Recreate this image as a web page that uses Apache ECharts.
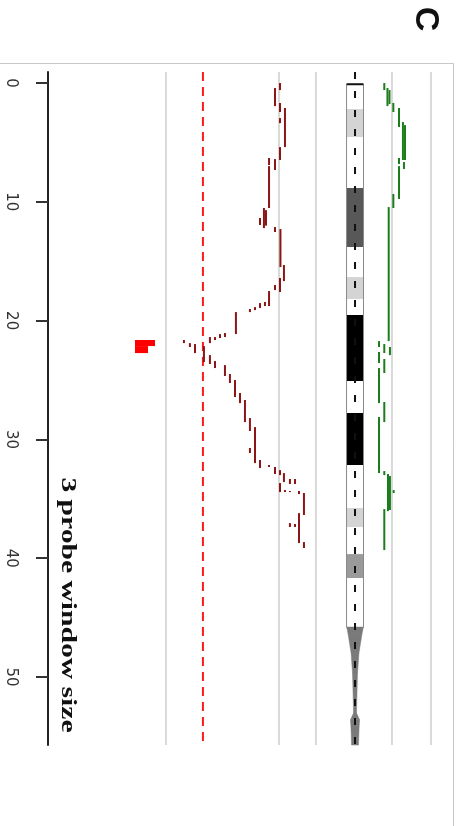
<!DOCTYPE html>
<html>
<head>
<meta charset="utf-8">
<script src="https://cdn.jsdelivr.net/npm/echarts@6/dist/echarts.min.js"></script>
<style>
  html, body { margin: 0; padding: 0; background: #ffffff; }
  #chart { width: 462px; height: 826px; }
</style>
</head>
<body>
<div id="chart"></div>
<script>
// Position along the chromosome (Mb)
const positionTicks = [0, 10, 20, 30, 40, 50];

// Track reference levels (track units)
const guideLevels = [0, 1, 1.327, 2, 2.345];
const thresholdLevel = 0.327;
const ideogramCenter = 1.673;

// Smoothed score over 3-probe windows: [start Mb, end Mb, score]
const scoreWindows = [
  [0.00, 0.59, 1.009], [0.42, 1.94, 0.965], [1.68, 2.44, 1.009], [2.10, 5.39, 1.053],
  [2.95, 3.37, 1.009], [5.39, 6.48, 1.009], [6.31, 6.90, 0.912], [6.99, 10.52, 0.912],
  [6.40, 7.32, 0.965], [10.52, 12.21, 0.867], [10.70, 12.00, 0.885], [11.36, 11.95, 0.832],
  [12.12, 12.54, 0.965], [12.29, 15.49, 1.013], [15.32, 16.67, 1.044], [16.41, 17.59, 1.009],
  [17.00, 17.42, 0.965], [17.51, 18.77, 0.912], [18.43, 18.77, 0.876], [18.52, 18.94, 0.832],
  [18.86, 19.11, 0.788], [19.02, 19.28, 0.743], [19.28, 21.13, 0.619], [21.04, 21.38, 0.522],
  [21.13, 21.46, 0.478], [21.38, 21.63, 0.434], [21.38, 21.89, 0.389], [21.63, 21.89, 0.159],
  [21.89, 22.22, 0.212], [21.97, 22.73, 0.257], [22.14, 23.48, 0.336], [22.90, 23.65, 0.389],
  [23.40, 23.99, 0.434], [23.74, 24.66, 0.522], [24.49, 25.25, 0.566], [25.00, 26.43, 0.611],
  [26.09, 26.94, 0.655], [26.68, 28.54, 0.699], [28.20, 29.29, 0.743], [28.96, 31.99, 0.788],
  [30.72, 31.14, 0.743], [31.73, 32.41, 0.832], [32.15, 32.32, 0.912], [32.32, 32.91, 0.965],
  [32.58, 33.00, 1.009], [33.67, 34.43, 1.009], [32.83, 33.59, 1.044], [33.33, 33.75, 1.097],
  [33.33, 33.75, 1.142], [34.26, 34.43, 1.053], [34.34, 34.43, 1.097], [34.34, 34.60, 1.177],
  [34.51, 36.36, 1.221], [36.20, 38.72, 1.177], [37.04, 37.37, 1.097], [37.12, 37.37, 1.142],
  [38.64, 39.14, 1.221]
];

// Second track over the same windows: [start Mb, end Mb, level]
const ratioWindows = [
  [0.00, 0.59, 1.932], [0.42, 1.94, 1.960], [0.59, 1.77, 1.978], [1.68, 2.44, 2.012],
  [2.10, 3.70, 2.062], [3.28, 6.48, 2.097], [3.54, 6.48, 2.115], [6.65, 7.24, 2.106],
  [6.31, 6.82, 2.062], [6.99, 9.76, 2.062], [9.34, 10.52, 2.012], [10.44, 21.72, 1.971],
  [21.72, 22.22, 1.885], [21.97, 22.73, 1.932], [22.22, 22.90, 1.982], [22.64, 23.57, 1.885],
  [23.23, 24.41, 1.932], [23.99, 26.94, 1.885], [26.85, 28.54, 1.932], [28.11, 32.83, 1.885],
  [32.66, 33.00, 1.932], [32.91, 36.03, 1.965], [33.08, 35.94, 1.982], [34.26, 34.51, 2.015],
  [35.86, 39.31, 1.932]
];

// Cytogenetic bands: [start Mb, end Mb, stain colour]
const ideogramBands = [
  [0.10, 2.19, '#ffffff'], [2.19, 4.55, '#d4d4d4'], [4.55, 8.84, '#ffffff'],
  [8.84, 13.80, '#585858'], [13.80, 16.33, '#ffffff'], [16.33, 18.18, '#d4d4d4'],
  [18.18, 19.53, '#ffffff'], [19.53, 25.08, '#000000'], [25.08, 27.78, '#ffffff'],
  [27.78, 32.15, '#000000'], [32.15, 35.77, '#ffffff'], [35.77, 37.37, '#d4d4d4'],
  [37.37, 39.65, '#ffffff'], [39.65, 41.67, '#9a9a9a'], [41.67, 45.79, '#ffffff']
];
const ideogramHalfWidth = 0.075;

// Centromere / short-arm outline: [position Mb, half width]
const ideogramTaper = [
  [45.79, 0.075], [46.13, 0.066], [46.89, 0.053], [47.98, 0.035], [49.66, 0.022],
  [53.03, 0.013], [53.60, 0.040], [54.46, 0.035], [55.72, 0.031]
];

// Windows called below threshold: [start Mb, end Mb, bar length]
const calledRegions = [[21.63, 22.14, 0.177], [22.14, 22.73, 0.115]];
const calledBase = -0.274;

const chart = echarts.init(document.getElementById('chart'));

function segmentSeries(name, data, color) {
  return {
    name: name,
    type: 'custom',
    data: data,
    encode: { x: 2, y: [0, 1] },
    z: 5,
    renderItem: function (params, api) {
      const a = api.coord([api.value(2), api.value(0)]);
      const b = api.coord([api.value(2), api.value(1)]);
      return {
        type: 'line',
        shape: { x1: a[0], y1: a[1], x2: b[0], y2: b[1] },
        style: { stroke: color, lineWidth: 2, lineCap: 'butt' }
      };
    }
  };
}

function fullHeightLine(name, levels, style, z) {
  return {
    name: name,
    type: 'custom',
    data: levels.map(function (v) { return [v]; }),
    encode: { x: 0 },
    z: z,
    silent: true,
    renderItem: function (params, api) {
      const cs = params.coordSys;
      const x = api.coord([api.value(0), 0])[0];
      return {
        type: 'line',
        shape: { x1: x, y1: cs.y, x2: x, y2: cs.y + cs.height },
        style: style
      };
    }
  };
}

const taperPieces = [];
for (let i = 0; i < ideogramTaper.length - 1; i++) {
  taperPieces.push([ideogramTaper[i][0], ideogramTaper[i + 1][0], ideogramTaper[i][1], ideogramTaper[i + 1][1]]);
}
const armStart = ideogramBands[0][0];
const armEnd = ideogramBands[ideogramBands.length - 1][1];

const option = {
  animation: false,
  backgroundColor: '#ffffff',
  grid: { left: 48, top: 72, width: 405, height: 673, containLabel: false },
  xAxis: { type: 'value', min: -1.044, max: 2.54, show: false },
  yAxis: {
    type: 'value',
    inverse: true,
    min: -0.93,
    max: 55.72,
    splitLine: { show: false },
    axisLine: { show: true, onZero: false, lineStyle: { color: '#222222', width: 2 } },
    axisTick: { show: true, customValues: positionTicks, length: 12, lineStyle: { color: '#333333', width: 2 } },
    axisLabel: {
      customValues: positionTicks,
      rotate: -90,
      margin: 30,
      color: '#333333',
      fontFamily: 'DejaVu Sans',
      fontSize: 15
    }
  },
  series: [
    fullHeightLine('guides', guideLevels, { stroke: '#d9d9d9', lineWidth: 2 }, 1),
    fullHeightLine('threshold', [thresholdLevel], { stroke: '#ff1a1a', lineWidth: 2, lineDash: [9, 6] }, 2),
    {
      name: 'ideogram',
      type: 'custom',
      data: ideogramBands,
      encode: { y: [0, 1] },
      z: 3,
      renderItem: function (params, api) {
        const p0 = api.coord([ideogramCenter - ideogramHalfWidth, api.value(0)]);
        const p1 = api.coord([ideogramCenter + ideogramHalfWidth, api.value(1)]);
        return {
          type: 'rect',
          shape: { x: p0[0], y: p0[1], width: p1[0] - p0[0], height: p1[1] - p0[1] },
          style: { fill: ideogramBands[params.dataIndex][2] }
        };
      }
    },
    {
      name: 'ideogramOutline',
      type: 'custom',
      data: [[armStart, armEnd]],
      encode: { y: [0, 1] },
      z: 4,
      renderItem: function (params, api) {
        const a = api.coord([ideogramCenter - ideogramHalfWidth, api.value(0)]);
        const b = api.coord([ideogramCenter + ideogramHalfWidth, api.value(1)]);
        return {
          type: 'group',
          children: [
            { type: 'line', shape: { x1: a[0], y1: a[1], x2: a[0], y2: b[1] }, style: { stroke: '#8a8a8a', lineWidth: 1 } },
            { type: 'line', shape: { x1: b[0], y1: a[1], x2: b[0], y2: b[1] }, style: { stroke: '#8a8a8a', lineWidth: 1 } },
            { type: 'line', shape: { x1: a[0], y1: a[1], x2: b[0], y2: a[1] }, style: { stroke: '#111111', lineWidth: 2 } }
          ]
        };
      }
    },
    {
      name: 'ideogramTaper',
      type: 'custom',
      data: taperPieces,
      encode: { y: [0, 1] },
      z: 3,
      renderItem: function (params, api) {
        const s = api.value(0), e = api.value(1), h0 = api.value(2), h1 = api.value(3);
        const pts = [
          api.coord([ideogramCenter - h0, s]), api.coord([ideogramCenter + h0, s]),
          api.coord([ideogramCenter + h1, e]), api.coord([ideogramCenter - h1, e])
        ];
        return { type: 'polygon', shape: { points: pts }, style: { fill: '#7a7a7a', stroke: '#7a7a7a', lineWidth: 0.5 } };
      }
    },
    fullHeightLine('ideogramAxis', [ideogramCenter], { stroke: '#111111', lineWidth: 2, lineDash: [7, 12] }, 4),
    segmentSeries('score', scoreWindows, '#8c1616'),
    segmentSeries('ratio', ratioWindows, '#1d7d1d'),
    {
      name: 'called',
      type: 'custom',
      data: calledRegions,
      encode: { y: [0, 1] },
      z: 6,
      renderItem: function (params, api) {
        const p0 = api.coord([calledBase, api.value(0)]);
        const p1 = api.coord([calledBase + api.value(2), api.value(1)]);
        return {
          type: 'rect',
          shape: { x: p0[0], y: p0[1], width: p1[0] - p0[0], height: p1[1] - p0[1] },
          style: { fill: '#ff0000' }
        };
      }
    }
  ],
  graphic: [
    { type: 'line', shape: { x1: 0, y1: 63.5, x2: 453.5, y2: 63.5 }, style: { stroke: '#c8c8c8', lineWidth: 1 }, silent: true },
    { type: 'line', shape: { x1: 453.5, y1: 63.5, x2: 453.5, y2: 826 }, style: { stroke: '#c8c8c8', lineWidth: 1 }, silent: true },
    {
      type: 'text', x: 67, y: 605, rotation: -Math.PI / 2, scaleX: 1.48, scaleY: 1,
      style: { text: '3 probe window size', fontFamily: '"Liberation Serif", "Times New Roman", serif', fontWeight: 'bold', fontSize: 20, fill: '#111111', align: 'center', verticalAlign: 'middle' }
    },
    {
      type: 'text', x: 425, y: 19, rotation: -Math.PI / 2,
      style: { text: 'C', fontFamily: '"Liberation Sans", Arial, sans-serif', fontWeight: 'bold', fontSize: 34, fill: '#111111', align: 'center', verticalAlign: 'middle' }
    }
  ]
};

chart.setOption(option);
</script>
</body>
</html>
